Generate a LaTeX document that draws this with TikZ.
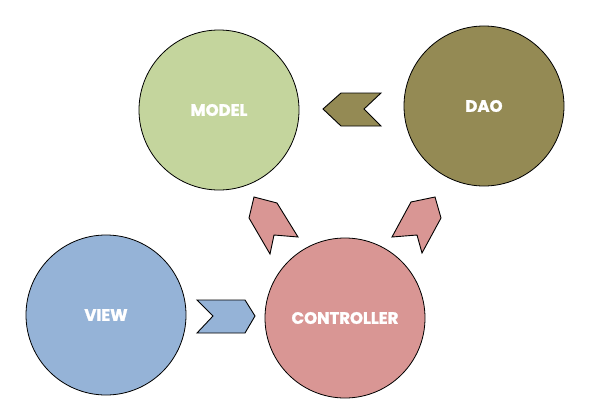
\documentclass[tikz,border=0pt]{standalone}
\usepackage{fontspec}
\setmainfont{Poppins}[BoldFeatures={FakeBold=1.5}]
\begin{document}
\begin{tikzpicture}[x=1pt,y=-1pt]
\definecolor{modelc}{HTML}{C4D59D}
\definecolor{daoc}{HTML}{948A54}
\definecolor{viewc}{HTML}{95B3D7}
\definecolor{ctrlc}{HTML}{D99694}
\tikzset{
  bubble/.style={circle,draw=black,line width=0.8pt,minimum size=160pt,inner sep=0pt,
    font=\fontsize{16.5}{18}\selectfont\bfseries,text=white},
  chev/.style={draw=black,line width=0.9pt,line join=miter}
}
\useasboundingbox (0,0) rectangle (594,420);
\node[bubble,fill=modelc] (model) at (219,110) {MODEL};
\node[bubble,fill=daoc] (dao) at (484,106) {DAO};
\node[bubble,fill=viewc] (view) at (106,315) {VIEW};
\node[bubble,fill=ctrlc] (ctrl) at (345,318) {CONTROLLER};
% DAO -> MODEL chevron
\draw[chev,fill=daoc] (323,109) -- (341,93) -- (381,93) -- (364,109) -- (381,126) -- (341,126) -- cycle;
% VIEW -> CONTROLLER chevron
\draw[chev,fill=viewc] (197,300) -- (245,300) -- (255,316) -- (245,333) -- (197,333) -- (213,316) -- cycle;
% CONTROLLER -> MODEL chevron
\draw[chev,fill=ctrlc] (254,197) -- (277,203) -- (298,237) -- (274,235) -- (270,254) -- (249,218) -- cycle;
% CONTROLLER -> DAO chevron
\draw[chev,fill=ctrlc] (411,202) -- (435,197) -- (441,218) -- (422,253) -- (417,235) -- (392,237) -- cycle;
\end{tikzpicture}
\end{document}
